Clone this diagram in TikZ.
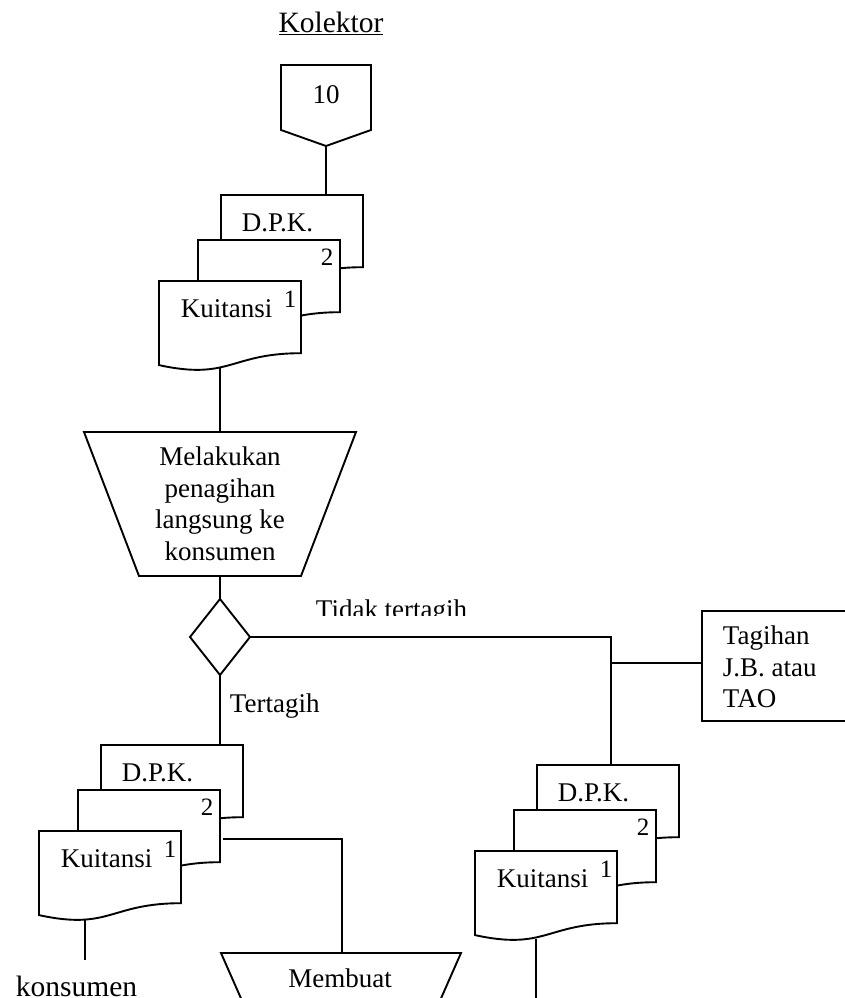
\documentclass[tikz,border=0pt]{standalone}
\usepackage{fontspec}
\setmainfont{Liberation Serif}

% one "document" sheet with the wavy lower edge; #1,#2 = top-left corner
\newcommand\docsheet[2]{%
  \begin{scope}[shift={(#1,#2)}]
    \filldraw[sheet] (0,0) -- (142,0) -- (142,72.2)
      .. controls (71,72.2) and (71,99.6) .. (0,84.1) -- cycle;
  \end{scope}}

% a stack of three sheets: D.P.K., copy 2 and Kuitansi copy 1
% #1,#2 = top-left corner of the rear sheet, #3 = name prefix
\newcommand\docstack[3]{%
  \docsheet{#1}{#2}
  \docsheet{#1-23}{#2+45}
  \docsheet{#1-62}{#2+86}
  \node[lbl, anchor=base west] (#3dpk) at (#1+20,#2+36) {D.P.K.};
  \node[num, anchor=base] (#3two) at (#1+106,#2+70) {2};
  \node[lbl, anchor=base west] (#3kui) at (#1-41,#2+122) {Kuitansi};
  \node[num, anchor=base] (#3one) at (#1+69,#2+112) {1};}

\begin{document}
\begin{tikzpicture}[x=1pt, y=-1pt,
  line width=1.9pt, line join=miter,
  sheet/.style={draw=black, fill=white},
  lbl/.style={inner sep=0, font=\fontsize{27}{31.5}\selectfont},
  num/.style={inner sep=0, font=\fontsize{25}{30}\selectfont},
  conn/.style={draw=black}]

\useasboundingbox (0,0) rectangle (845,998);
\clip (0,0) rectangle (845,998);

% ---- connection points ----
\coordinate (offtip) at (326,146);
\coordinate (topdpk) at (326,195);
\coordinate (topkui) at (220,367);
\coordinate (proc1top) at (220,432);
\coordinate (proc1bot) at (220,576);
\coordinate (decN) at (220,599);
\coordinate (decS) at (220,675);
\coordinate (decE) at (250,637);
\coordinate (corner) at (611,637);
\coordinate (branch) at (611,663);
\coordinate (tagW) at (702,663);
\coordinate (rdpk) at (611,765);
\coordinate (rkui) at (536,939);
\coordinate (rend) at (536,1010);
\coordinate (ldpk) at (220,745);
\coordinate (lkui) at (85,919);
\coordinate (lend) at (85,960);
\coordinate (lcopy) at (223,839);
\coordinate (lturn) at (342,839);
\coordinate (proc2top) at (342,953);

% ---- connectors ----
\draw[conn] (offtip) -- (topdpk);
\draw[conn] (topkui) -- (proc1top);
\draw[conn] (proc1bot) -- (decN);
\draw[conn] (decE) -- (corner) -- (rdpk);
\draw[conn] (branch) -- (tagW);
\draw[conn] (decS) -- (ldpk);
\draw[conn] (lkui) -- (lend);
\draw[conn] (lcopy) -- (lturn) -- (proc2top);
\draw[conn] (rkui) -- (rend);
% heavier ink on parts of the "Tidak tertagih" line
\draw[line width=2.6pt] (387,637) -- (446,637);
\draw[line width=2.4pt] (611,695) -- (611,717);

% ---- title ----
\node[inner sep=0, anchor=base, font=\fontsize{29.5}{34}\selectfont] (title) at (331,33) {\underline{Kolektor}};

% ---- off-page connector ----
\filldraw[sheet] (281,65) -- (371,65) -- (371,130) -- (326,146) -- (281,130) -- cycle;
\node[lbl, anchor=base] (offlbl) at (326,103) {10};

% ---- document stacks ----
\docstack{221}{195}{t}
\docstack{101}{745}{l}
\docstack{537}{765}{r}

% ---- manual process: collection ----
\filldraw[sheet] (84,432) -- (356,432) -- (301,576) -- (139,576) -- cycle;
\node[lbl, align=center, anchor=center] (proc1) at (220,504)
  {Melakukan\\penagihan\\langsung ke\\konsumen};

% ---- decision ----
\filldraw[sheet] (decN) -- (decE) -- (decS) -- (190,637) -- cycle;
\node[lbl, anchor=base west] (tertagih) at (229,712) {Tertagih};
\begin{scope}
  \clip (300,585) rectangle (480,615);
  \node[lbl, anchor=base west] (tidak) at (315,618.5) {Tidak tertagih};
\end{scope}

% ---- bill box ----
\draw[sheet] (702,611) rectangle (860,721);
\node[lbl, align=left, anchor=west] (tagihan) at (722,667) {Tagihan\\J.B. atau\\TAO};

% ---- destination and second process ----
\node[inner sep=0, anchor=base west, font=\fontsize{29.5}{34}\selectfont] (kons) at (15,996.5) {konsumen};
\filldraw[sheet] (221,953) -- (461,953) -- (409,1071) -- (273,1071) -- cycle;
\node[lbl, anchor=base] (membuat) at (340,987) {Membuat};

\end{tikzpicture}
\end{document}
